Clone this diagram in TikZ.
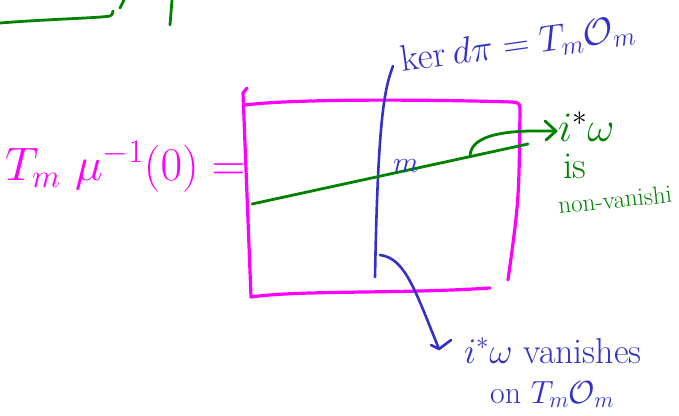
\RequirePackage{fix-cm}
\documentclass[tikz,border=0pt]{standalone}
\usepackage{amsmath}
\usepackage{fontspec}
\setmainfont{Latin Modern Roman}
\usetikzlibrary{arrows.meta}
\definecolor{mag}{RGB}{255,0,255}
\definecolor{pblue}{RGB}{50,50,200}
\definecolor{pgreen}{RGB}{0,130,0}
\tikzset{
  magline/.style={draw=mag,line width=3.2pt,line cap=round,line join=round},
  blueline/.style={draw=pblue,line width=2.6pt,line cap=round,line join=round},
  greenline/.style={draw=pgreen,line width=2.8pt,line cap=round,line join=round},
  lbl/.style={inner sep=0pt,anchor=base west},
}
\begin{document}
\begin{tikzpicture}[x=1pt,y=-1pt]
\useasboundingbox (0,0) rectangle (679,415);
\fill[white] (0,0) rectangle (679,415);
% top-left green strokes
\coordinate (g1) at (0,23);
\coordinate (g2) at (110,16);
\coordinate (g3) at (113,11);
\coordinate (g4) at (120,8);
\coordinate (g5) at (124,0);
\coordinate (g6) at (172,0);
\coordinate (g7) at (170,25);
\draw[greenline] (g1) .. controls (50,19) and (100,18) .. (g2) .. controls (112,15) .. (g3);
\draw[greenline] (g4) -- (g5);
\draw[greenline] (g6) -- (g7);
% magenta box
\coordinate (bh) at (247,88);
\coordinate (btl) at (243,93);
\coordinate (bbl) at (251,297);
\coordinate (bbr) at (490,288);
\coordinate (btl2) at (245,105);
\coordinate (btr) at (520,108);
\coordinate (brb) at (508,280);
\draw[magline] (bh) -- (btl) -- (bbl) .. controls (300,290) and (400,294) .. (bbr);
\draw[magline] (btl2) .. controls (300,98) and (450,100) .. (512,102) .. controls (519,103) .. (btr) .. controls (519,200) .. (brb);
% blue vertical line (ker dpi)
\coordinate (vt) at (393,66);
\coordinate (vb) at (375,277);
\draw[blueline] (vt) .. controls (384,90) and (378,120) .. (vb);
% green line across
\coordinate (la) at (252,204);
\coordinate (lb) at (528,144);
\draw[greenline] (la) -- (lb);
% green curved arrow
\coordinate (ca) at (470,157);
\coordinate (cb) at (556,131);
\draw[greenline] (ca) .. controls (470,140) and (490,132) .. (530,131) -- (cb);
\coordinate (ch1) at (545,121);
\coordinate (ch2) at (546,140);
\draw[greenline] (ch1) -- (cb) -- (ch2);
% blue curved arrow
\coordinate (da) at (380,255);
\coordinate (db) at (439,349);
\draw[blueline] (da) .. controls (405,258) and (415,290) .. (db);
\coordinate (dh1) at (431,345);
\coordinate (dh2) at (451,340);
\draw[blueline] (dh1) -- (db) -- (dh2);
% texts
\node[lbl,text=mag,font=\fontsize{47}{56}\selectfont] (lhs) at (5,180) {$T_m\ \mu^{-1}(0) =$};
\node[lbl,text=pblue,font=\fontsize{37}{44}\selectfont,rotate=8] (ker) at (402,72) {$\ker d\pi = T_m\mathcal{O}_m$};
\node[lbl,text=pblue,font=\fontsize{30}{36}\selectfont] (m) at (393,172) {$m$};
\node[lbl,text=pgreen,font=\fontsize{42}{50}\selectfont] (iw) at (558,141) {$i^{\textcolor{black}{*}}\omega$};
\node[lbl,text=pgreen,font=\fontsize{38}{44}\selectfont] (is) at (563,178) {is};
\node[lbl,text=pgreen,font=\fontsize{25}{30}\selectfont,rotate=6] (nv) at (559,214) {non-vanishi};
\node[lbl,text=pblue,font=\fontsize{36}{44}\selectfont] (iv) at (464,363) {$i^*\omega$ vanishes};
\node[lbl,text=pblue,font=\fontsize{32}{38}\selectfont] (on) at (490,403) {on $T_m\mathcal{O}_m$};
\end{tikzpicture}
\end{document}
